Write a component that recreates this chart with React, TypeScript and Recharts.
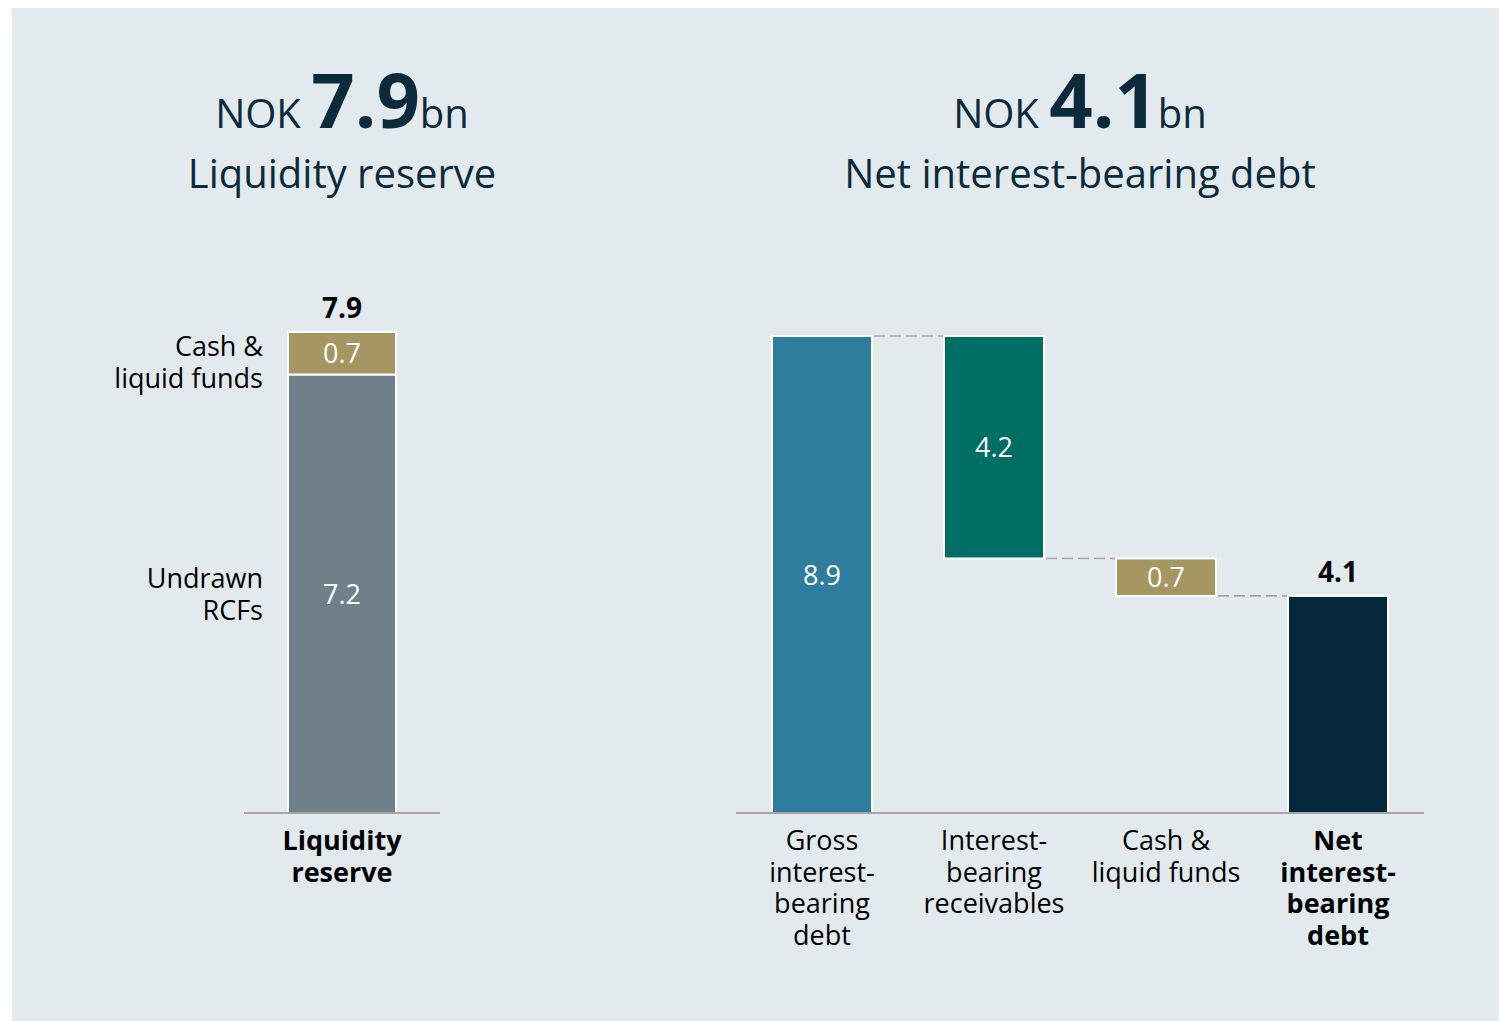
import React from 'react';
import { BarChart, Bar, XAxis, YAxis, LabelList } from 'recharts';

// ---------- data ----------
// Left panel: liquidity reserve (NOK bn)
const liqCategories = ['Liquidity\nreserve'];
const undrawnRCFs = [7.2];
const cashLiquidFunds = [0.7];
const liqSegmentNames = ['Undrawn\nRCFs', 'Cash &\nliquid funds'];

// Right panel: net interest-bearing debt waterfall (NOK bn)
const debtCategories = [
  'Gross\ninterest-\nbearing\ndebt',
  'Interest-\nbearing\nreceivables',
  'Cash &\nliquid funds',
  'Net\ninterest-\nbearing\ndebt',
];
const debtValues = [8.92, 4.16, 0.7, 4.06];
const debtKinds = ['total', 'decrease', 'decrease', 'total'];

// Titles
const titleAmounts = ['7.9', '4.1'];
const titleNames = ['Liquidity reserve', 'Net interest-bearing debt'];
const titleCurrency = 'NOK';
const titleUnit = 'bn';

// ---------- styles ----------
const FONT = '"Open Sans", "Noto Sans", sans-serif';
const TITLE_COLOR = '#0b2a3c';
const PANEL_BG = '#e3eaed';
const AXIS_COLOR = '#a6a6a6';
const GREY = '#6f808a';
const GOLD = '#a59662';
const debtColors = ['#2e7d9e', '#006e63', '#a59662', '#03273b'];

// ---------- derived tables ----------
const liqData = liqCategories.map((name, i) => ({
  name,
  undrawn: undrawnRCFs[i],
  cash: cashLiquidFunds[i],
  total: undrawnRCFs[i] + cashLiquidFunds[i],
}));

let running = 0;
const debtData = debtCategories.map((name, i) => {
  const v = debtValues[i];
  let range: [number, number];
  if (debtKinds[i] === 'total') {
    range = [0, v];
    running = v;
  } else {
    range = [running - v, running];
    running = running - v;
  }
  return { name, value: v, kind: debtKinds[i], range, color: debtColors[i], last: i === debtCategories.length - 1 };
});

// ---------- layout ----------
const LEFT = { left: 100, top: 250, width: 400, height: 720, margin: { top: 82, right: 60, bottom: 37, left: 144 } };
const RIGHT = { left: 700, top: 250, width: 760, height: 720, margin: { top: 86, right: 36, bottom: 37, left: 36 } };
const X_AXIS_HEIGHT = 120;

const MultiTick = (props: any) => {
  const { x, y, payload, bold } = props;
  const lines = String(payload.value).split('\n');
  return (
    <text x={x} y={y} textAnchor="middle" fontFamily={FONT} fontSize={27} fill="#000" fontWeight={bold ? 700 : 400}>
      {lines.map((l: string, i: number) => (
        <tspan key={i} x={x} dy={i === 0 ? 29 : 31.5}>
          {l}
        </tspan>
      ))}
    </text>
  );
};

const InsideValue = (props: any) => {
  const { x, y, width, height, value } = props;
  const v = Array.isArray(value) ? value[1] - value[0] : value;
  return (
    <text x={x + width / 2} y={y + height / 2 + 10} textAnchor="middle" fontFamily={FONT} fontSize={27} fill="#fff">
      {Number(v).toFixed(1)}
    </text>
  );
};

const SideLabel = (lines: string[], firstDy: number) => (props: any) => {
  const { x, y, height } = props;
  const mid = y + height / 2;
  return (
    <text x={x - 25} y={mid + firstDy} textAnchor="end" fontFamily={FONT} fontSize={27} fill="#000">
      {lines.map((l, i) => (
        <tspan key={i} x={x - 25} dy={i === 0 ? 0 : 32}>
          {l}
        </tspan>
      ))}
    </text>
  );
};

const LiqTotalLabel = (props: any) => {
  const { x, y, width, index } = props;
  return (
    <text x={x + width / 2} y={y - 14} textAnchor="middle" fontFamily={FONT} fontSize={28} fontWeight={700} fill="#000">
      {liqData[index].total.toFixed(1)}
    </text>
  );
};

const DebtValueLabel = (props: any) => {
  const { x, y, width, height, index } = props;
  const d = debtData[index];
  if (d.last) {
    return (
      <text x={x + width / 2} y={y - 14} textAnchor="middle" fontFamily={FONT} fontSize={28} fontWeight={700} fill="#000">
        {d.value.toFixed(1)}
      </text>
    );
  }
  return (
    <text x={x + width / 2} y={y + height / 2 + 10} textAnchor="middle" fontFamily={FONT} fontSize={27} fill="#fff">
      {d.value.toFixed(1)}
    </text>
  );
};

const rightPlotWidth = RIGHT.width - RIGHT.margin.left - RIGHT.margin.right;
const bandSize = rightPlotWidth / debtCategories.length;

const WaterfallShape = (props: any) => {
  const { x, y, width, height, payload, index } = props;
  const h = Math.abs(height);
  const top = height < 0 ? y + height : y;
  const levelY = payload.kind === 'total' ? top : top + h;
  const hasNext = index < debtData.length - 1;
  return (
    <g>
      {hasNext && (
        <line
          x1={x + width + 2}
          x2={x + bandSize - 1}
          y1={levelY}
          y2={levelY}
          stroke={AXIS_COLOR}
          strokeWidth={1.6}
          strokeDasharray="11 5"
        />
      )}
      <rect x={x} y={top} width={width} height={h} fill={payload.color} stroke="#fff" strokeWidth={2} />
    </g>
  );
};

export default function App() {
  return (
    <div style={{ position: 'absolute', left: 0, top: 0, width: 1499, height: 1021, background: '#fff', overflow: 'hidden' }}>
      <div style={{ position: 'absolute', left: 12, top: 8, width: 1487, height: 1013, background: PANEL_BG }} />

      <div style={{ position: 'absolute', left: LEFT.left, top: LEFT.top }}>
        <BarChart width={LEFT.width} height={LEFT.height} data={liqData} margin={LEFT.margin} barSize={108}>
          <XAxis
            dataKey="name"
            height={X_AXIS_HEIGHT}
            axisLine={{ stroke: AXIS_COLOR, strokeWidth: 2 }}
            tickLine={false}
            interval={0}
            tick={(p: any) => <MultiTick {...p} bold />}
          />
          <YAxis hide domain={[0, liqData[0].total]} />
          <Bar dataKey="undrawn" stackId="a" fill={GREY} stroke="#fff" strokeWidth={2} isAnimationActive={false}>
            <LabelList dataKey="undrawn" content={InsideValue} />
            <LabelList dataKey="undrawn" content={SideLabel(liqSegmentNames[0].split('\n'), -6)} />
          </Bar>
          <Bar dataKey="cash" stackId="a" fill={GOLD} stroke="#fff" strokeWidth={2} isAnimationActive={false}>
            <LabelList dataKey="cash" content={InsideValue} />
            <LabelList dataKey="cash" content={SideLabel(liqSegmentNames[1].split('\n'), 3)} />
            <LabelList dataKey="cash" content={LiqTotalLabel} />
          </Bar>
        </BarChart>
      </div>

      <div style={{ position: 'absolute', left: RIGHT.left, top: RIGHT.top }}>
        <BarChart width={RIGHT.width} height={RIGHT.height} data={debtData} margin={RIGHT.margin} barSize={100}>
          <XAxis
            dataKey="name"
            height={X_AXIS_HEIGHT}
            axisLine={{ stroke: AXIS_COLOR, strokeWidth: 2 }}
            tickLine={false}
            interval={0}
            tick={(p: any) => <MultiTick {...p} bold={p.index === debtCategories.length - 1} />}
          />
          <YAxis hide domain={[0, debtValues[0]]} />
          <Bar dataKey="range" shape={WaterfallShape} isAnimationActive={false}>
            <LabelList dataKey="range" content={DebtValueLabel} />
          </Bar>
        </BarChart>
      </div>

      <svg style={{ position: 'absolute', left: 0, top: 0, pointerEvents: 'none' }} width={1499} height={1021}>
        {[342, 1080].map((cx, i) => (
          <g key={i}>
            <text x={cx} y={128} textAnchor="middle" fill={TITLE_COLOR} fontFamily={FONT}>
              <tspan fontSize={40}>{titleCurrency} </tspan>
              <tspan fontSize={76} fontWeight={700}>{titleAmounts[i]}</tspan>
              <tspan fontSize={40}>{titleUnit}</tspan>
            </text>
            <text x={cx} y={188} textAnchor="middle" fill={TITLE_COLOR} fontFamily={FONT} fontSize={40}>
              {titleNames[i]}
            </text>
          </g>
        ))}
      </svg>
    </div>
  );
}
